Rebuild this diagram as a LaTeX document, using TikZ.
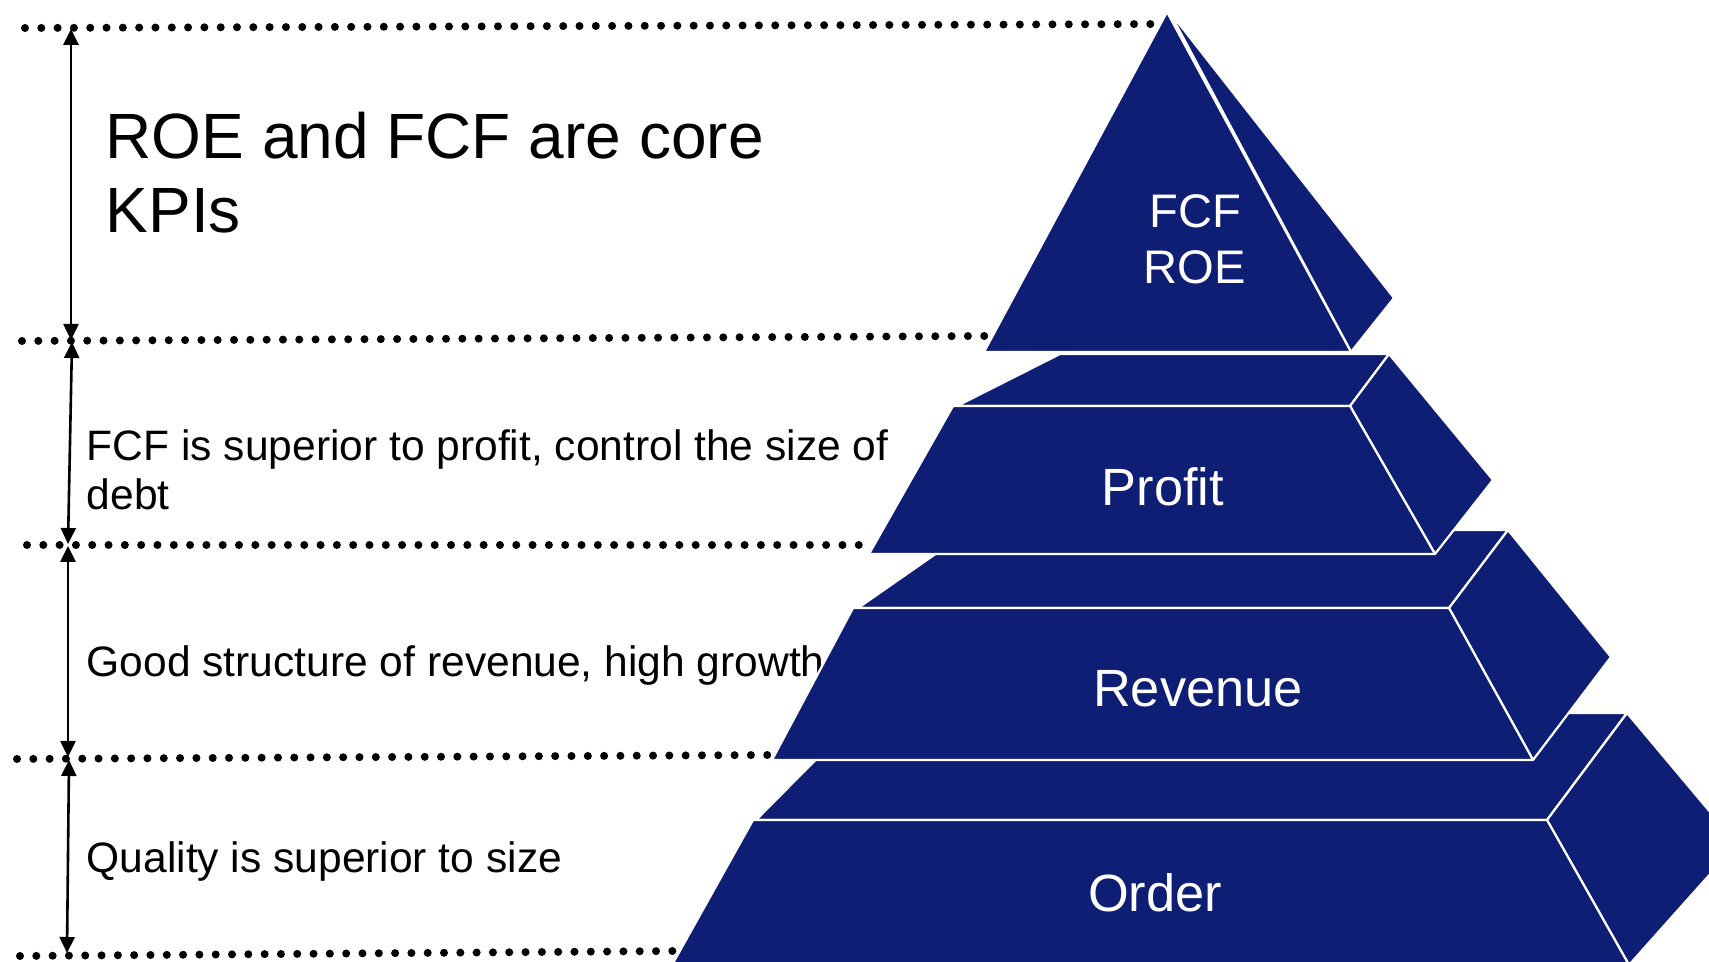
\documentclass[tikz,border=0pt]{standalone}
\usepackage{fontspec}
\setmainfont{Liberation Sans}
\usetikzlibrary{arrows.meta}
\definecolor{navy}{RGB}{14,30,116}
\tikzset{
  face/.style={fill=navy, draw=white, line width=0.022cm, line join=round},
  dotline/.style={line width=0.08cm, line cap=round, dash pattern=on 0pt off 0.163cm},
  dimarrow/.style={line width=0.026cm, {Triangle[length=0.16cm,width=0.15cm]}-{Triangle[length=0.16cm,width=0.15cm]}},
  sidetext/.style={font=\fontsize{12.1pt}{14.2pt}\selectfont, anchor=base west, inner sep=0, align=left},
  titletext/.style={font=\fontsize{18.2pt}{21.3pt}\selectfont, anchor=base west, inner sep=0, align=left},
  tierlabel/.style={text=white, font=\fontsize{14.9pt}{17pt}\selectfont, anchor=base, inner sep=0},
  toplabel/.style={text=white, font=\fontsize{13.4pt}{16.2pt}\selectfont, anchor=base, inner sep=0, align=center},
}
\begin{document}
\begin{tikzpicture}[x=0.01cm, y=-0.01cm]
\useasboundingbox (0,0) rectangle (1709,962);
\clip (0,0) rectangle (1709,962);

% dotted level lines
\draw[dotline] (25,28) -- (1167,24);
\draw[dotline] (22,341) -- (986,336);
\draw[dotline] (27,545) -- (866,545);
\draw[dotline] (17,759) -- (768,755);
\draw[dotline] (20,956) -- (676,951);

% dimension arrows
\coordinate (a1t) at (71,29);
\coordinate (a1b) at (71,340);
\coordinate (a2t) at (72,342);
\coordinate (a2b) at (68,544);
\coordinate (a3t) at (68,546);
\coordinate (a3b) at (68,757);
\coordinate (a4t) at (69,760);
\coordinate (a4b) at (67,953);
\draw[dimarrow] (a1t) -- (a1b);
\draw[dimarrow] (a2t) -- (a2b);
\draw[dimarrow] (a3t) -- (a3b);
\draw[dimarrow] (a4t) -- (a4b);

% texts (base anchor = baseline of last line)
\node[titletext] (title) at (105,233) {ROE and FCF are core\\KPIs};
\node[sidetext] (t1) at (86,510) {FCF is superior to profit, control the size of\\debt};
\node[sidetext] (t2) at (86,677) {Good structure of revenue, high growth};
\node[sidetext] (t3) at (86,873) {Quality is superior to size};

% tier 4 (Order)
\path[face] (862,713) -- (1627,713) -- (1547,820) -- (756,820) -- cycle;
\path[face] (1627,713) -- (1737,844) -- (1629,965) -- (1547,820) -- cycle;
\path[face] (753,820) -- (1547,820) -- (1629,965) -- (672,965) -- cycle;

% tier 3 (Revenue)
\path[face] (970,530) -- (1508,530) -- (1449,608) -- (858,608) -- cycle;
\path[face] (1508,530) -- (1611,657) -- (1533,760) -- (1449,608) -- cycle;
\path[face] (853,608) -- (1449,608) -- (1533,760) -- (772,760) -- cycle;

% tier 2 (Profit)
\path[face] (1060,354) -- (1389,354) -- (1350,406) -- (957,406) -- cycle;
\path[face] (1389,354) -- (1493,480) -- (1435,554) -- (1350,406) -- cycle;
\path[face] (953,406) -- (1350,406) -- (1435,554) -- (869,554) -- cycle;

% tier 1 (FCF / ROE)
\path[face] (1169,11) -- (1394,298) -- (1351,352) -- cycle;
\path[face] (1167,12) -- (1351,352) -- (984,352) -- cycle;

% tier labels
\node[toplabel] (top) at (1195,284) {FCF\\ROE};
\node[tierlabel] (profit) at (1163,506) {Profit};
\node[tierlabel] (revenue) at (1198,707) {Revenue};
\node[tierlabel] (order) at (1155,912) {Order};
\end{tikzpicture}
\end{document}
